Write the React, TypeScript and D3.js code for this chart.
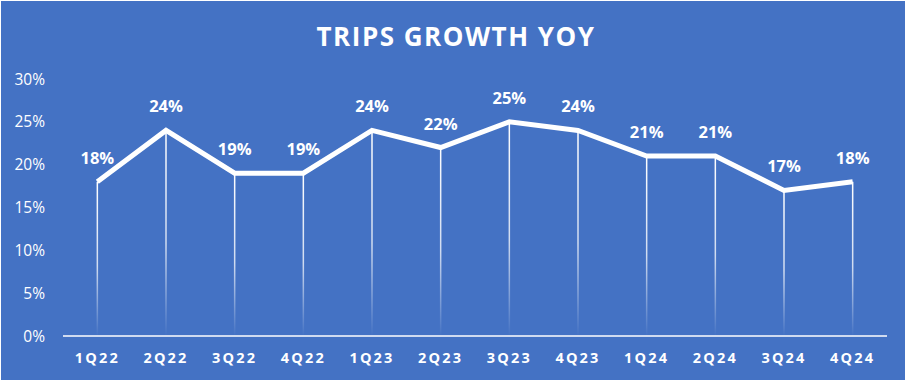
import React from "react";
import * as d3 from "d3";

const categories = ["1Q22","2Q22","3Q22","4Q22","1Q23","2Q23","3Q23","4Q23","1Q24","2Q24","3Q24","4Q24"];
const values = [18,24,19,19,24,22,25,24,21,21,17,18];
const yTicks = [0,5,10,15,20,25,30];
const title = "TRIPS GROWTH YOY";

const W = 910, H = 384;
const margin = { left: 63, right: 23, top: 79, bottom: 48 };
const FONT = "'Open Sans', 'Liberation Sans', sans-serif";

export default function App() {
  const x = d3.scaleBand<string>().domain(categories).range([margin.left, W - margin.right]).padding(0);
  const y = d3.scaleLinear().domain([0, 30]).range([H - margin.bottom, margin.top]);
  const cx = (c: string) => (x(c) as number) + x.bandwidth() / 2;
  const line = d3.line<number>().x((_, i) => cx(categories[i])).y((d) => y(d));
  const y0 = y(0);
  return (
    <svg width={W} height={H} style={{ position: "absolute", left: 0, top: 0 }}>
      <defs>
        <linearGradient id="drop" x1="0" y1="0" x2="0" y2="1" gradientUnits="objectBoundingBox">
          <stop offset="0" stopColor="#fff" stopOpacity={1} />
          <stop offset="0.55" stopColor="#fff" stopOpacity={0.75} />
          <stop offset="1" stopColor="#fff" stopOpacity={0} />
        </linearGradient>
      </defs>
      <rect x={1} y={1} width={904} height={379} fill="#4472C4" />
      <text x={456} y={46} textAnchor="middle" fill="#fff" fontFamily={FONT} fontWeight={700} fontSize={26} letterSpacing={1.5}>{title}</text>
      {yTicks.map((t) => (
        <text key={t} x={45} y={y(t) + 5.5} textAnchor="end" fill="#fff" fontFamily={FONT} fontSize={15.5}>{t}%</text>
      ))}
      {values.map((v, i) => (
        <rect key={i} x={cx(categories[i]) - 0.75} y={y(v)} width={1.5} height={y0 - y(v)} fill="url(#drop)" />
      ))}
      <line x1={margin.left} x2={W - margin.right} y1={y0} y2={y0} stroke="#fff" strokeWidth={1.5} />
      <path d={line(values) || ""} fill="none" stroke="#fff" strokeWidth={5} strokeLinejoin="miter" />
      {values.map((v, i) => (
        <text key={i} x={cx(categories[i])} y={y(v) - 18} textAnchor="middle" fill="#fff" fontFamily={FONT} fontWeight={700} fontSize={16.5}>{v}%</text>
      ))}
      {categories.map((c) => (
        <text key={c} x={cx(c)} y={y0 + 27} textAnchor="middle" fill="#fff" fontFamily={FONT} fontWeight={700} fontSize={14.5} letterSpacing={2.2}>{c}</text>
      ))}
    </svg>
  );
}
